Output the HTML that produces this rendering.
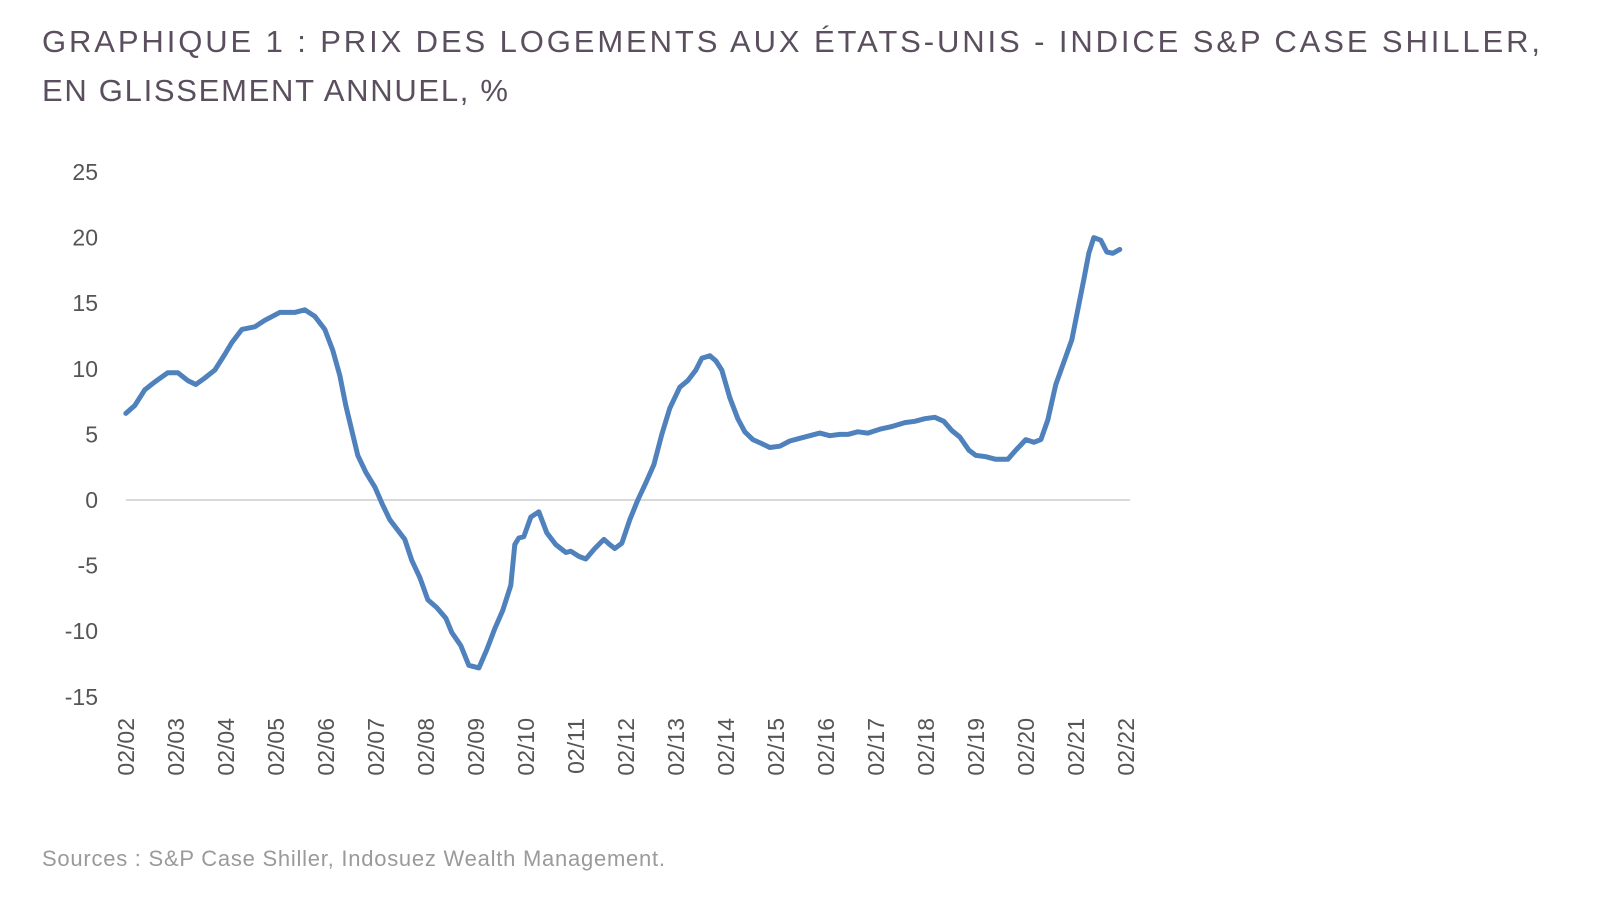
<!DOCTYPE html>
<html><head><meta charset="utf-8"><style>
html,body{margin:0;padding:0;background:#fff;width:1600px;height:918px;overflow:hidden}
svg{display:block;font-family:"Liberation Sans",sans-serif}
</style></head><body>
<svg id="chart" width="1600" height="918">
<text x="42" y="52" font-size="31" fill="#5b4f5f" textLength="1498" lengthAdjust="spacing">GRAPHIQUE 1 : PRIX DES LOGEMENTS AUX ÉTATS-UNIS - INDICE S&amp;P CASE SHILLER,</text>
<text x="42" y="101" font-size="31" fill="#5b4f5f" textLength="466" lengthAdjust="spacing">EN GLISSEMENT ANNUEL, %</text>
<g id="yaxis"></g>
<g id="xaxis"></g>
<line x1="126" x2="1130" y1="500" y2="500" stroke="#d9d9d9" stroke-width="2"/>
<path id="line" fill="none" stroke="#4f81bd" stroke-width="5" stroke-linejoin="round" stroke-linecap="round"/>
<text x="42" y="866" font-size="22" fill="#9a9a9a" textLength="623" lengthAdjust="spacing">Sources : S&amp;P Case Shiller, Indosuez Wealth Management.</text>
</svg>
<script>
const yTicks=[25,20,15,10,5,0,-5,-10,-15];
const xTickYears=[2002,2003,2004,2005,2006,2007,2008,2009,2010,2011,2012,2013,2014,2015,2016,2017,2018,2019,2020,2021,2022];
const dates=[2002.08,2002.26,2002.46,2002.66,2002.92,2003.12,2003.32,2003.48,2003.66,2003.86,2004.06,2004.2,2004.4,2004.66,2004.86,2005.16,2005.46,2005.66,2005.86,2006.06,2006.22,2006.36,2006.48,2006.6,2006.72,2006.88,2007.06,2007.22,2007.36,2007.52,2007.66,2007.8,2007.96,2008.12,2008.3,2008.48,2008.6,2008.78,2008.94,2009.14,2009.3,2009.46,2009.62,2009.78,2009.86,2009.94,2010.04,2010.18,2010.34,2010.5,2010.68,2010.88,2010.98,2011.14,2011.28,2011.46,2011.64,2011.76,2011.86,2012.0,2012.16,2012.32,2012.48,2012.64,2012.8,2012.96,2013.16,2013.32,2013.48,2013.6,2013.76,2013.88,2014.0,2014.16,2014.32,2014.46,2014.62,2014.8,2014.96,2015.16,2015.36,2015.56,2015.76,2015.96,2016.16,2016.36,2016.52,2016.72,2016.92,2017.16,2017.4,2017.66,2017.86,2018.06,2018.26,2018.44,2018.6,2018.76,2018.94,2019.08,2019.28,2019.48,2019.72,2019.88,2020.08,2020.24,2020.38,2020.52,2020.68,2020.84,2021.0,2021.12,2021.24,2021.34,2021.44,2021.58,2021.7,2021.82,2021.96];
const values=[6.6,7.2,8.4,9.0,9.7,9.7,9.1,8.8,9.3,9.9,11.1,12.0,13.0,13.2,13.7,14.3,14.3,14.5,14.0,13.0,11.4,9.5,7.2,5.3,3.4,2.1,1.0,-0.4,-1.5,-2.3,-3.0,-4.6,-5.9,-7.6,-8.2,-9.0,-10.1,-11.1,-12.6,-12.8,-11.4,-9.8,-8.4,-6.5,-3.4,-2.9,-2.8,-1.3,-0.9,-2.5,-3.4,-4.0,-3.9,-4.3,-4.5,-3.7,-3.0,-3.4,-3.7,-3.3,-1.5,0,1.3,2.7,5.0,7.0,8.6,9.1,9.9,10.8,11.0,10.6,9.9,7.8,6.2,5.2,4.6,4.3,4.0,4.1,4.5,4.7,4.9,5.1,4.9,5.0,5.0,5.2,5.1,5.4,5.6,5.9,6.0,6.2,6.3,6.0,5.3,4.8,3.8,3.4,3.3,3.1,3.1,3.8,4.6,4.4,4.6,6.1,8.8,10.5,12.2,14.5,16.8,18.8,20.0,19.8,18.9,18.8,19.1];
const NS="http://www.w3.org/2000/svg";
const x=d=>126+(d-2002.083)*50;
const y=v=>500-v*13.12;
const ya=document.getElementById('yaxis');
yTicks.forEach(t=>{
  const e=document.createElementNS(NS,'text');
  
  
  e.setAttribute('x',98);e.setAttribute('y',y(t)+8);
  e.setAttribute('text-anchor','end');e.setAttribute('font-size','23');e.setAttribute('fill','#555');
  e.textContent=t;ya.appendChild(e);
});
const xa=document.getElementById('xaxis');
xTickYears.forEach(yr=>{
  const px=x(yr+0.083)+8, py=718;
  const e=document.createElementNS(NS,'text');
  
  
  e.setAttribute('x',px);e.setAttribute('y',py);
  e.setAttribute('text-anchor','end');e.setAttribute('font-size','23');e.setAttribute('fill','#555');
  e.setAttribute('transform','rotate(-90 '+px+' '+py+')');
  e.textContent='02/'+String(yr%100).padStart(2,'0');xa.appendChild(e);
});
document.getElementById('line').setAttribute('d',dates.map((d,i)=>(i?'L':'M')+x(d).toFixed(1)+' '+y(values[i]).toFixed(1)).join(' '));
</script>
</body></html>
